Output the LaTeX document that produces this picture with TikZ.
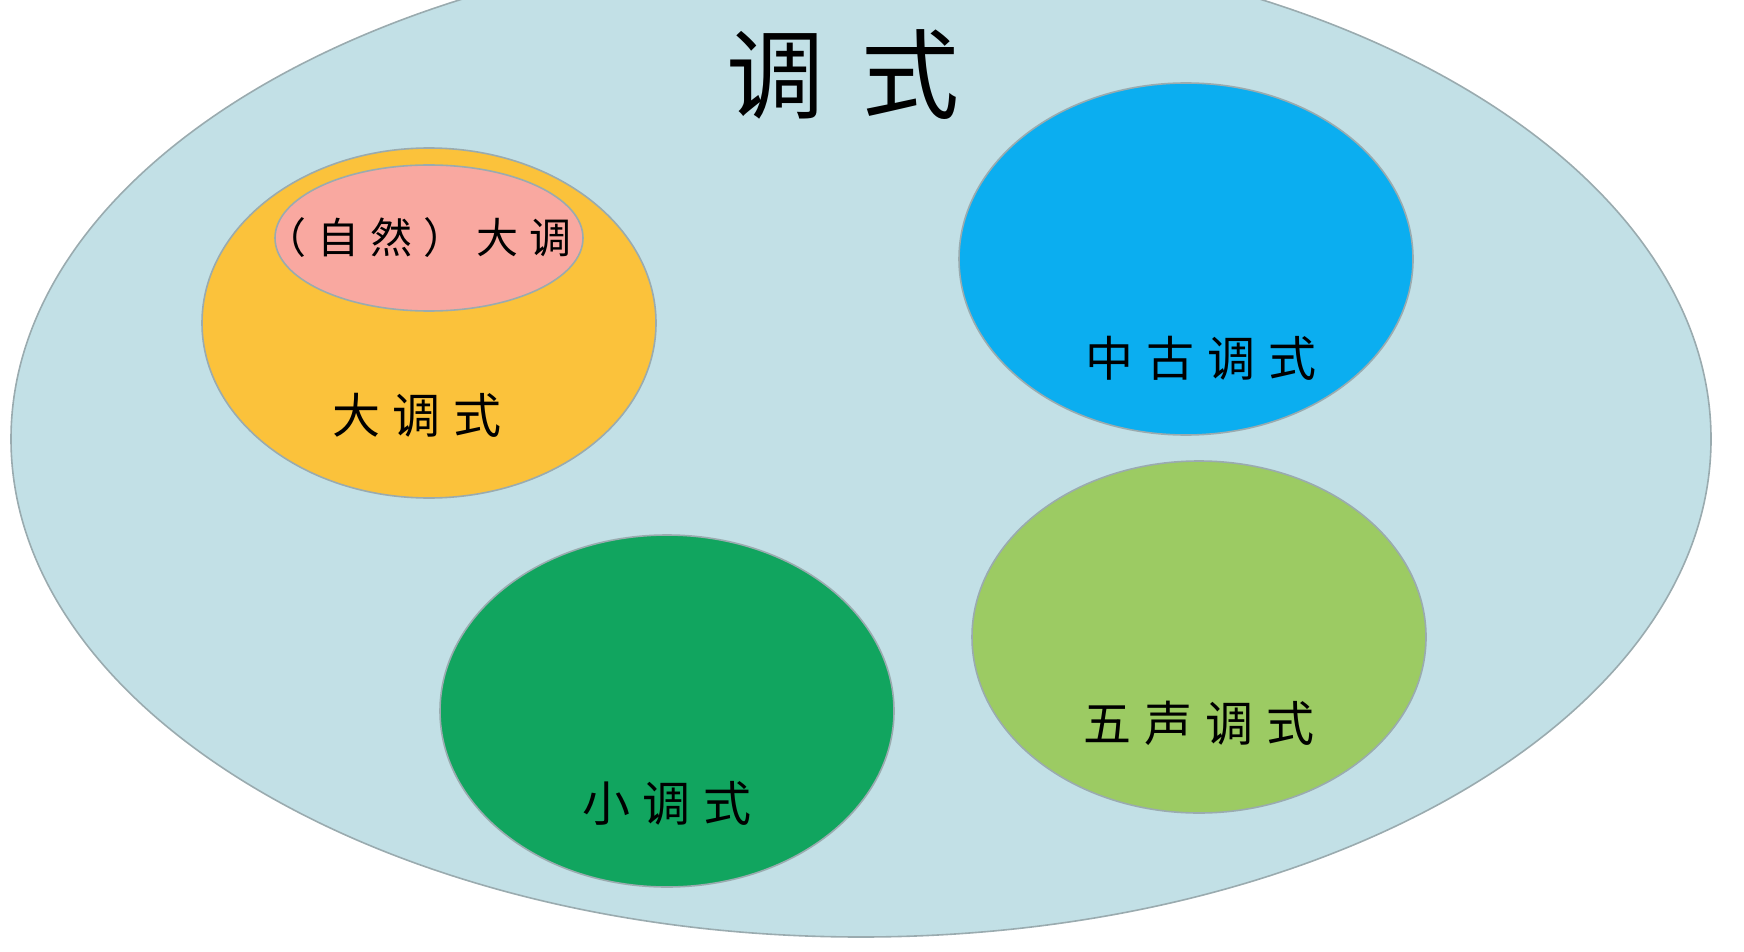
\documentclass[tikz,border=0pt]{standalone}
\usepackage{fontspec}
\newfontfamily\cjk{Noto Sans CJK SC}
\usetikzlibrary{shapes.geometric}
\definecolor{setbg}{HTML}{C2E0E6}
\definecolor{setline}{HTML}{9AABAF}
\definecolor{majorfill}{HTML}{FBC23B}
\definecolor{naturalfill}{HTML}{F9A8A0}
\definecolor{medievalfill}{HTML}{0BAEF0}
\definecolor{pentafill}{HTML}{9CCB63}
\definecolor{minorfill}{HTML}{11A55F}
\begin{document}
\begin{tikzpicture}[x=0.5pt,y=-0.5pt,
set/.style={draw=setline,line width=0.8pt,ellipse,inner sep=0pt,minimum width=227pt,minimum height=176pt},
lbl/.style={font=\cjk\fontsize{24}{24}\selectfont\addfontfeature{LetterSpace=27}}]
\useasboundingbox (0,0) rectangle (1744,952);
\clip (0,0) rectangle (1744,952);
\node[set,fill=setbg,minimum width=850pt,minimum height=498pt] (modes) at (861,439) {};
\node[set,fill=majorfill,minimum height=175pt] (major) at (429,323) {};
\node[set,fill=naturalfill,minimum width=154pt,minimum height=73pt] (natural) at (429,238) {};
\node[set,fill=medievalfill] (medieval) at (1186,259) {};
\node[set,fill=pentafill] (penta) at (1199,637) {};
\node[set,fill=minorfill] (minor) at (667,711) {};
% labels
\node[font=\cjk\fontsize{49}{49}\selectfont\addfontfeature{LetterSpace=38}] (title) at (843,75) {调式};
\node[lbl,font=\cjk\fontsize{21}{21}\selectfont\addfontfeature{LetterSpace=26}] (naturallbl) at (418,238) {（自然）大调};
\node[lbl] (majorlbl) at (417,415) {大调式};
\node[lbl] (medievallbl) at (1201,358) {中古调式};
\node[lbl] (pentalbl) at (1199,723) {五声调式};
\node[lbl] (minorlbl) at (667,803) {小调式};
\end{tikzpicture}
\end{document}
